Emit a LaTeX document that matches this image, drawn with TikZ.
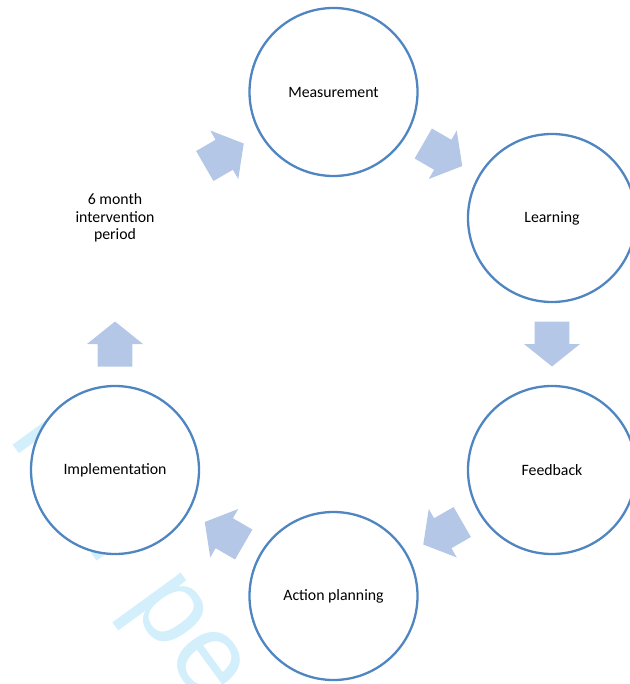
\documentclass[tikz,border=0pt]{standalone}
\usepackage{fontspec}
\setmainfont{Carlito}
\newfontfamily\wmfont{Liberation Sans}
\definecolor{ringblue}{RGB}{79,134,194}
\definecolor{arrowfill}{RGB}{180,199,231}
\definecolor{wmcyan}{RGB}{211,239,251}
\tikzset{
  stage/.style={circle, draw=ringblue, line width=2.3pt, fill=white,
    minimum size=168pt, inner sep=0pt, align=center,
    font=\fontsize{15.8}{17.6}\selectfont},
  label6/.style={align=center, inner sep=0pt,
    font=\fontsize{15.8}{17.6}\selectfont},
  watermark/.style={text=wmcyan, inner sep=0pt, anchor=base west,
    font=\wmfont\fontsize{115}{115}\selectfont},
  blockarrow/.pic={
    \fill[arrowfill] (-22.5,-17.3) -- (0,-17.3) -- (0,-28) -- (22.5,0)
      -- (0,28) -- (0,17.3) -- (-22.5,17.3) -- cycle;
  }
}
\begin{document}
\begin{tikzpicture}[x=1pt,y=-1pt]
\useasboundingbox (0,0) rectangle (629,684);
% watermark
\node[watermark, rotate=-54] (wm) at (7.5,437.3) {For peer review only};
% block arrows (centres on a circle of radius 218.5 round (333.5,344))
\pic[rotate=-30]  (a1) at (442.75,154.77) {blockarrow};
\pic[rotate=-90]  (a2) at (552,344) {blockarrow};
\pic[rotate=-150] (a3) at (442.75,533.23) {blockarrow};
\pic[rotate=150]  (a4) at (224.25,533.23) {blockarrow};
\pic[rotate=90]   (a5) at (115,344) {blockarrow};
\pic[rotate=30]   (a6) at (224.25,154.77) {blockarrow};
% stages
\node[stage] (meas) at (333.5,92) {Measurement};
\node[stage] (learn) at (552,218) {Learning};
\node[stage] (feed) at (552,470) {Feedback};
\node[stage] (act) at (333.5,596) {Action planning};
\node[stage] (impl) at (115,470) {Implementation};
\node[label6] (period) at (115,218) {6 month\\intervention\\period};
\end{tikzpicture}
\end{document}
